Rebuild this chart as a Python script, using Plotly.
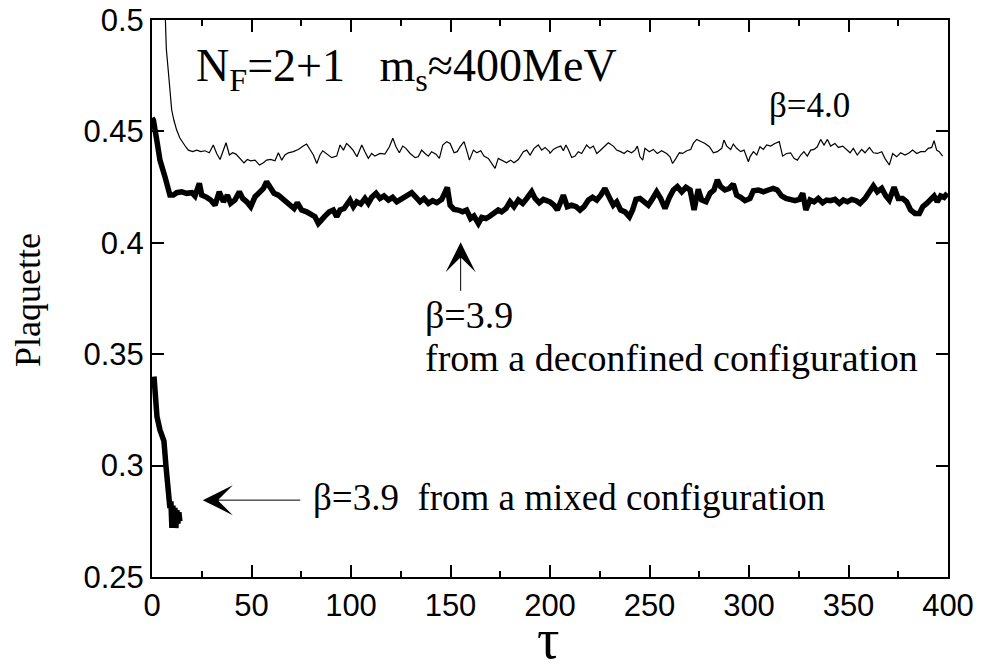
import plotly.graph_objects as go

# beta = 4.0 (thin line)
tau_b40 = [6.0, 6.5, 7.2, 8.2, 9.2, 9.9, 11.0, 12.4, 14.0, 15.7, 17.0, 18.3, 20.4, 22.5, 24.5, 26.6, 28.8,
           30.8, 32.5, 34.2, 35.9, 37.2, 38.9, 40.5, 42.2, 44.2, 46.2, 47.9, 49.6, 51.8, 54.0, 56.0, 57.6,
           59.6, 61.8, 63.5, 65.2, 66.8, 68.5, 71.0, 73.5, 76.0, 77.7, 79.4, 81.1, 82.8, 84.4, 85.8, 87.8,
           90.3, 92.8, 94.5, 96.2, 97.8,
           99.5, 101.0, 103.0, 105.4, 107.0, 108.7, 110.4, 112.0, 114.6, 117.0, 119.3, 121.0, 122.6, 124.3,
           126.0, 127.6, 129.7, 132.2, 133.8, 135.5, 137.2, 138.9, 140.5, 142.7, 144.4, 146.1, 148.1, 149.8,
           151.8, 153.4, 154.8, 156.8, 158.1, 159.5, 161.5, 163.2, 165.2, 166.8, 169.0, 170.7, 172.4, 174.0,
           176.2, 178.2, 180.2, 181.9, 184.1, 186.6, 188.3, 190.0, 192.0, 194.1, 195.8, 197.5, 199.7,
           200.0, 201.7, 203.4, 205.4, 206.7, 208.0, 209.2, 210.9, 212.6, 214.2, 215.9, 218.4, 220.1, 221.8,
           223.5, 225.1, 227.1, 229.3, 231.8, 233.5, 235.5, 237.2, 238.9, 241.0, 242.7, 243.9, 245.2, 246.6,
           247.7, 249.9, 251.9, 253.9, 256.1, 258.6, 260.3, 261.6, 263.3, 265.0, 266.7, 268.7, 270.7, 272.0,
           273.7, 275.7, 277.9, 280.1, 282.1, 284.1, 286.3, 287.4, 288.8, 290.8, 292.1, 293.8, 295.8, 297.5,
           299.7,
           300.5, 302.2, 303.9, 305.5, 307.2, 308.9, 310.9, 313.0, 315.2, 316.9, 318.9, 320.9, 322.6, 324.3,
           326.0, 327.6, 329.3, 331.0, 332.7, 334.3, 336.0, 337.7, 339.4, 341.0, 343.2, 344.9, 347.1, 349.1,
           350.8, 352.4, 354.4, 356.6, 358.3, 360.5, 362.5, 364.5, 366.7, 368.3, 370.5, 372.2, 374.2, 376.2,
           378.4, 380.6, 382.2, 384.3, 386.3, 388.4, 390.1, 391.8, 393.0, 394.3, 395.6, 397.3]
plaq_b40 = [0.520, 0.500, 0.487, 0.477, 0.466, 0.4596, 0.455, 0.4506, 0.447, 0.4446, 0.443, 0.4416, 0.4409,
            0.4416, 0.4409, 0.4413, 0.4404, 0.4439, 0.4401, 0.4374, 0.4416, 0.4449, 0.4394, 0.4404, 0.4398,
            0.4379, 0.4359, 0.4374, 0.4368, 0.4371, 0.4349, 0.4359, 0.4371, 0.4374, 0.4368, 0.4404, 0.4371,
            0.4394, 0.4404, 0.4409, 0.4419, 0.4434, 0.4443, 0.4419, 0.4394, 0.4356, 0.4394, 0.4413, 0.4401,
            0.4382, 0.4389, 0.4439, 0.4416, 0.4446,
            0.4431, 0.4416, 0.4386, 0.4439, 0.4409, 0.4379, 0.4401, 0.4389, 0.4401, 0.4398, 0.4431, 0.4469,
            0.4431, 0.4404, 0.4434, 0.4424, 0.4401, 0.4382, 0.4386, 0.4416, 0.4401, 0.4389, 0.4409, 0.4398,
            0.4379, 0.4439, 0.4454, 0.4446, 0.4404, 0.4409, 0.4431, 0.4454, 0.4416, 0.4371, 0.4416, 0.4404,
            0.4413, 0.4389, 0.4379, 0.4359, 0.4334, 0.4379, 0.4368, 0.4359, 0.4371, 0.4359, 0.4374, 0.4409,
            0.4416, 0.4394, 0.4424, 0.4439, 0.4416, 0.4428, 0.4409,
            0.4401, 0.4419, 0.4428, 0.4434, 0.4413, 0.4439, 0.4419, 0.4383, 0.4389, 0.4409, 0.4401, 0.4439,
            0.4424, 0.4434, 0.4401, 0.4413, 0.4431, 0.4449, 0.4434, 0.4416, 0.4409, 0.4401, 0.4413, 0.4404,
            0.4416, 0.4434, 0.4386, 0.4371, 0.4424, 0.4409, 0.4419, 0.4401, 0.4413, 0.4401, 0.4386, 0.4356,
            0.4379, 0.4404, 0.4401, 0.4413, 0.4419, 0.4446, 0.4464, 0.4454, 0.4446, 0.4431, 0.4404, 0.4409,
            0.4424, 0.4461, 0.4434, 0.4419, 0.4443, 0.4424, 0.4409, 0.4416, 0.4364,
            0.4386, 0.4409, 0.4394, 0.4431, 0.4419, 0.4439, 0.4434, 0.4446, 0.4454, 0.4389, 0.4401, 0.4404,
            0.4379, 0.4371, 0.4394, 0.4409, 0.4389, 0.4416, 0.4419, 0.4431, 0.4464, 0.4439, 0.4464, 0.4434,
            0.4446, 0.4428, 0.4434, 0.4416, 0.4404, 0.4424, 0.4394, 0.4419, 0.4404, 0.4428, 0.4404, 0.4401,
            0.4409, 0.4379, 0.4349, 0.4401, 0.4386, 0.4404, 0.4394, 0.4404, 0.4416, 0.4401, 0.4409, 0.4409,
            0.4424, 0.4428, 0.4458, 0.4416, 0.4409, 0.4389]

# beta = 3.9 from a deconfined configuration (thick line)
tau_b39d = [0.0, 0.7, 2.4, 4.0, 6.5, 9.0, 10.7, 12.4, 14.9, 17.4, 20.0, 21.6, 23.8, 25.0, 27.5, 29.5, 31.7,
            33.8, 35.9, 37.9, 39.5, 41.7, 43.9, 45.6, 47.6, 49.6, 51.8, 54.0, 56.0, 57.6, 59.3, 61.3, 63.5,
            65.7, 67.7, 69.4, 71.4, 73.0, 75.2, 77.7, 79.7, 81.9, 83.6, 85.3, 86.9, 89.1, 91.1, 92.8, 94.5,
            96.5, 98.7,
            99.5, 101.2, 102.9, 104.9, 107.0, 108.7, 110.4, 112.6, 114.6, 116.6, 118.8, 120.9, 123.0, 125.0,
            126.6, 128.8, 130.5, 132.7, 134.7, 136.7, 138.9, 141.0, 143.1, 145.6, 147.2, 148.4, 149.8, 151.8,
            153.9, 156.1, 158.1, 160.1, 161.8, 164.0, 165.7, 167.8, 169.9, 171.9, 174.0, 175.7, 177.9, 179.9,
            181.9, 184.1, 186.3, 188.3, 190.8, 192.5, 194.6, 196.7, 198.7,
            200.0, 202.0, 203.7, 205.4, 206.7, 208.7, 210.9, 213.1, 215.1, 217.1, 219.3, 221.4, 223.5, 225.5,
            227.6, 229.8, 231.8, 233.5, 235.5, 237.7, 239.9, 241.5, 243.2, 245.2, 247.2, 249.4, 251.6, 253.6,
            255.6, 257.8, 260.0, 262.0, 264.0, 266.2, 268.3, 270.4, 272.4, 274.5, 276.2, 278.4, 280.4, 282.4,
            284.1, 285.8, 287.9, 290.1, 292.1, 293.8, 295.8, 298.0,
            300.5, 302.2, 304.7, 307.2, 309.7, 312.2, 314.2, 316.4, 318.6, 320.6, 323.1, 325.3, 327.0, 328.6,
            330.7, 332.7, 334.8, 337.0, 339.0, 341.0, 343.2, 345.4, 347.4, 349.4, 351.6, 353.8, 355.8, 358.3,
            360.5, 362.5, 364.5, 366.7, 368.8, 370.5, 372.9, 375.0, 377.2, 379.2, 381.2, 383.4, 385.6, 387.3,
            389.3, 391.3, 393.0, 394.6, 396.3, 398.0, 399.7]
plaq_b39d = [0.4560, 0.4551, 0.4461, 0.4371, 0.4297, 0.4214, 0.4214, 0.4225, 0.4229, 0.4222, 0.4225, 0.4210,
             0.4267, 0.4214, 0.4204, 0.4192, 0.4169, 0.4229, 0.4184, 0.4214, 0.4177, 0.4192, 0.4229, 0.4199,
             0.4184, 0.4162, 0.4207, 0.4225, 0.4244, 0.4274, 0.4244, 0.4222, 0.4214, 0.4199, 0.4184, 0.4169,
             0.4154, 0.4180, 0.4147, 0.4139, 0.4129, 0.4117, 0.4087, 0.4109, 0.4120, 0.4139, 0.4147, 0.4117,
             0.4147, 0.4154, 0.4177,
             0.4192, 0.4162, 0.4184, 0.4174, 0.4199, 0.4177, 0.4204, 0.4222, 0.4199, 0.4210, 0.4192, 0.4204,
             0.4184, 0.4195, 0.4204, 0.4214, 0.4225, 0.4204, 0.4184, 0.4199, 0.4177, 0.4189, 0.4180, 0.4195,
             0.4229, 0.4249, 0.4169, 0.4150, 0.4147, 0.4139, 0.4147, 0.4109, 0.4120, 0.4087, 0.4114, 0.4109,
             0.4120, 0.4132, 0.4147, 0.4139, 0.4154, 0.4184, 0.4162, 0.4192, 0.4177, 0.4199, 0.4229, 0.4199,
             0.4180, 0.4195, 0.4189,
             0.4184, 0.4169, 0.4147, 0.4184, 0.4214, 0.4162, 0.4169, 0.4162, 0.4147, 0.4162, 0.4192, 0.4204,
             0.4192, 0.4214, 0.4244, 0.4204, 0.4169, 0.4184, 0.4147, 0.4139, 0.4117, 0.4147, 0.4195, 0.4199,
             0.4184, 0.4169, 0.4199, 0.4229, 0.4199, 0.4154, 0.4204, 0.4237, 0.4252, 0.4229, 0.4249, 0.4237,
             0.4147, 0.4240, 0.4192, 0.4184, 0.4222, 0.4237, 0.4282, 0.4252, 0.4237, 0.4244, 0.4264, 0.4214,
             0.4204, 0.4189,
             0.4199, 0.4234, 0.4237, 0.4229, 0.4237, 0.4244, 0.4237, 0.4210, 0.4199, 0.4195, 0.4189, 0.4195,
             0.4222, 0.4147, 0.4192, 0.4184, 0.4199, 0.4180, 0.4192, 0.4189, 0.4195, 0.4177, 0.4192, 0.4184,
             0.4195, 0.4189, 0.4177, 0.4199, 0.4234, 0.4255, 0.4229, 0.4244, 0.4210, 0.4192, 0.4249, 0.4199,
             0.4199, 0.4184, 0.4147, 0.4132, 0.4132, 0.4162, 0.4177, 0.4192, 0.4210, 0.4184, 0.4210, 0.4204,
             0.4222]

# beta = 3.9 from a mixed configuration (short thick line)
tau_b39m = [1.0, 1.5, 2.5, 4.0, 5.0, 6.0, 7.0, 8.0, 9.0, 9.5, 10.0, 10.5, 11.0, 11.5, 12.0, 12.5, 13.0, 13.5, 14.0]
plaq_b39m = [0.340, 0.330, 0.322, 0.316, 0.313, 0.311, 0.300, 0.288, 0.281, 0.284, 0.272, 0.282, 0.273,
             0.281, 0.272, 0.280, 0.274, 0.279, 0.275]

SERIF = "Liberation Serif, Times New Roman, serif"
SANS = "Liberation Sans, Arial, sans-serif"

fig = go.Figure()
fig.add_trace(go.Scatter(x=tau_b40, y=plaq_b40, mode="lines",
                         line=dict(color="black", width=1.2)))
fig.add_trace(go.Scatter(x=tau_b39d, y=plaq_b39d, mode="lines",
                         line=dict(color="black", width=5.5)))
fig.add_trace(go.Scatter(x=tau_b39m, y=plaq_b39m, mode="lines",
                         line=dict(color="black", width=5.5)))

axis_style = dict(showgrid=False, zeroline=False, showline=True, linecolor="black", linewidth=2,
                  mirror="ticks", ticks="inside", ticklen=12, tickwidth=2, tickcolor="black",
                  automargin=False, ticklabeloverflow="allow",
                  tickfont=dict(family=SANS, size=31, color="black"))

fig.update_xaxes(range=[0, 400], dtick=50,
                 minor=dict(dtick=25, ticks="inside", ticklen=6, tickwidth=2, tickcolor="black"),
                 **axis_style)
fig.update_yaxes(range=[0.25, 0.5], dtick=0.05, **axis_style)

annots = [
    # labels
    dict(x=21.2, y=0.4778, text="N<sub>F</sub>=2+1\u00a0\u00a0 m<sub>s</sub>\u2248400MeV",
         xanchor="left", yanchor="middle", font=dict(family=SERIF, size=46)),
    dict(x=309, y=0.4618, text="\u03b2=4.0", xanchor="left", yanchor="middle",
         font=dict(family=SERIF, size=35)),
    dict(x=136, y=0.3675, text="\u03b2=3.9", xanchor="left", yanchor="middle",
         font=dict(family=SERIF, size=38)),
    dict(x=136, y=0.3482, text="from a deconfined configuration", xanchor="left", yanchor="middle",
         font=dict(family=SERIF, size=38)),
    dict(x=79.9, y=0.2855, text="\u03b2=3.9\u00a0\u00a0from a mixed configuration", xanchor="left",
         yanchor="middle", font=dict(family=SERIF, size=37)),
    # arrows
    dict(x=25.5, y=0.2845, ax=99, ay=0, text="", showarrow=True, arrowhead=3, arrowsize=5,
         arrowwidth=1, arrowcolor="black"),
    dict(x=155.1, y=0.4002, ax=0, ay=50, text="", showarrow=True, arrowhead=3, arrowsize=5,
         arrowwidth=1, arrowcolor="black"),
    # axis titles
    dict(xref="paper", yref="paper", x=-0.156, y=0.497, text="Plaquette", textangle=-90,
         xanchor="center", yanchor="middle", font=dict(family=SERIF, size=36)),
    dict(xref="paper", yref="paper", x=0.4975, y=-0.112, text="\u03c4",
         xanchor="center", yanchor="middle", font=dict(family=SERIF, size=56)),
]
for a in annots:
    a.setdefault("showarrow", False)
    a["font"] = dict(color="black", **a.get("font", {}))
    fig.add_annotation(**a)

fig.update_layout(width=984, height=672, showlegend=False,
                  plot_bgcolor="white", paper_bgcolor="white",
                  margin=dict(l=152, r=36, t=20, b=95))

# drop the default 8px body margin so the figure sits at the page corner
fig.write_html("out.html", config={"displayModeBar": False},
               post_script="document.body.style.margin='0px';")
